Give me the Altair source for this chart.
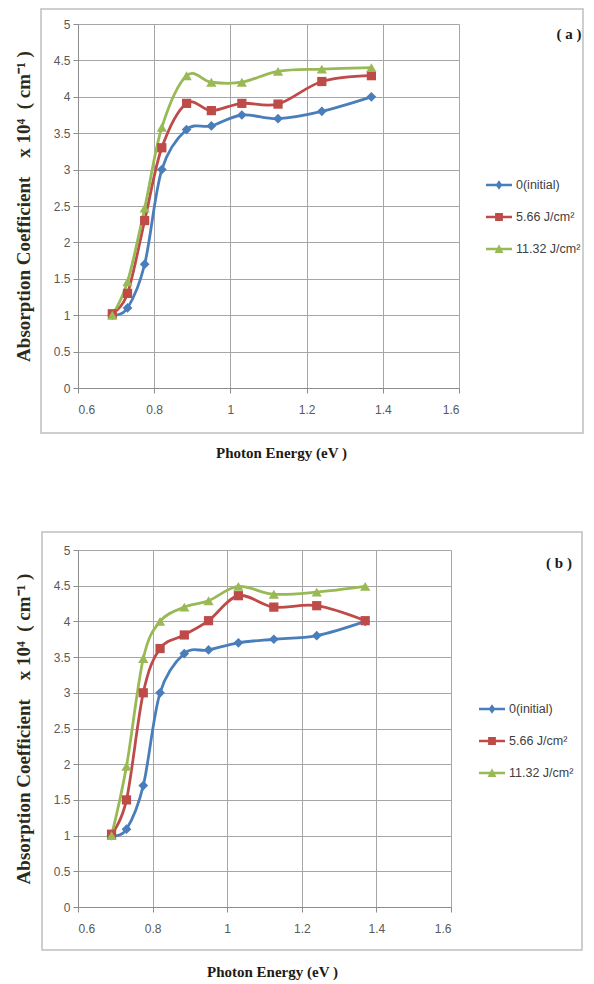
import altair as alt
import pandas as pd

# ---------------- data ----------------
energy = [0.69, 0.73, 0.775, 0.82, 0.885, 0.95, 1.03, 1.125, 1.24, 1.37]

a_initial = [1.0, 1.10, 1.70, 3.0, 3.55, 3.60, 3.75, 3.70, 3.80, 4.0]
a_566 = [1.02, 1.30, 2.30, 3.30, 3.91, 3.81, 3.91, 3.90, 4.21, 4.29]
a_1132 = [1.0, 1.46, 2.47, 3.58, 4.29, 4.20, 4.20, 4.35, 4.38, 4.40]

b_initial = [1.0, 1.09, 1.70, 3.0, 3.55, 3.60, 3.70, 3.75, 3.80, 4.0]
b_566 = [1.02, 1.50, 3.0, 3.62, 3.81, 4.01, 4.36, 4.20, 4.22, 4.01]
b_1132 = [1.0, 1.97, 3.48, 4.0, 4.20, 4.29, 4.49, 4.38, 4.41, 4.49]

series_names = ["0(initial)", "5.66 J/cm²", "11.32 J/cm²"]
x_ticks = [0.6, 0.8, 1.0, 1.2, 1.4, 1.6]
y_ticks = [0, 0.5, 1, 1.5, 2, 2.5, 3, 3.5, 4, 4.5, 5]

# ---------------- styles ----------------
colors = ["#4A7EBB", "#BE4B48", "#98B954"]
marker_shapes = ["diamond", "square", "triangle-up"]
marker_sizes = [95, 85, 105]
legend_paths = [
    "M-1,-0.09H1V0.09H-1Z M0,-0.36L0.26,0L0,0.36L-0.26,0Z",
    "M-1,-0.09H1V0.09H-1Z M-0.3,-0.3H0.3V0.3H-0.3Z",
    "M-1,-0.09H1V0.09H-1Z M-0.34,0.3L0,-0.36L0.34,0.3Z",
]
SERIF = "Liberation Serif"
SANS = "Liberation Sans"
NB = "\u00a0"
Y_TITLE = "Absorption Coefficient" + NB * 4 + "x 10⁴" + NB * 2 + "(" + NB + "cm⁻¹" + NB + ")"


def make_df(v1, v2, v3):
    rows = []
    for name, vals in zip(series_names, [v1, v2, v3]):
        for e, v in zip(energy, vals):
            rows.append({"energy": e, "alpha": v, "series": name})
    return pd.DataFrame(rows)


def panel(df, w, h, border, label, label_xy, legend_xy, title_x):
    x_enc = alt.X(
        "energy:Q",
        scale=alt.Scale(domain=[0.6, 1.6], nice=False, zero=False),
        axis=alt.Axis(values=x_ticks, format=".1~f", title="Photon Energy (eV )",
                      titleX=title_x, tickSize=5, labelPadding=11, titlePadding=30,
                      titleFontSize=15, titleColor="#1E1A14"),
    )
    y_enc = alt.Y(
        "alpha:Q",
        scale=alt.Scale(domain=[0, 5], nice=False),
        axis=alt.Axis(values=y_ticks, format=".1~f", title=Y_TITLE,
                      tickSize=5, labelPadding=3, titlePadding=20,
                      titleFontSize=19, titleColor="#2E2A1A"),
    )
    base = alt.Chart(df)
    one = alt.Chart(pd.DataFrame({"k": [0]}))

    frame = one.mark_rect(fill="transparent", stroke="#BFBFBF", strokeWidth=1.5).encode(
        x=alt.value(border[0]), x2=alt.value(border[1]),
        y=alt.value(border[2]), y2=alt.value(border[3]),
    )
    layers = [frame]
    for name, col in zip(series_names, colors):
        layers.append(
            base.transform_filter(alt.datum.series == name)
            .mark_line(interpolate="cardinal", strokeWidth=2.8, color=col)
            .encode(x=x_enc, y=y_enc)
        )
    for name, col, shp, sz in zip(series_names, colors, marker_shapes, marker_sizes):
        layers.append(
            base.transform_filter(alt.datum.series == name)
            .mark_point(shape=shp, filled=True, size=sz, opacity=1, color=col)
            .encode(x=x_enc, y=y_enc)
        )
    leg = alt.Legend(title=None, orient="none", legendX=legend_xy[0], legendY=legend_xy[1],
                     symbolSize=676, symbolStrokeWidth=0, symbolOpacity=1, labelFont=SANS,
                     labelFontSize=12.5, labelColor="#404040", labelOffset=4,
                     rowPadding=12, padding=0, direction="vertical")
    legend_layer = base.transform_filter("false").mark_point(filled=True, opacity=1).encode(
        x=x_enc, y=y_enc,
        color=alt.Color("series:N", scale=alt.Scale(domain=series_names, range=colors),
                        legend=leg),
        shape=alt.Shape("series:N", scale=alt.Scale(domain=series_names, range=legend_paths),
                        legend=leg),
    )
    layers.append(legend_layer)
    tag = one.mark_text(font=SERIF, fontWeight="bold", fontSize=15, color="#1E1A14").encode(
        x=alt.value(label_xy[0]), y=alt.value(label_xy[1]), text=alt.value(label)
    )
    layers.append(tag)
    return alt.layer(*layers).properties(width=w, height=h)


df_a = make_df(a_initial, a_566, a_1132)
df_b = make_df(b_initial, b_566, b_1132)

pa = panel(df_a, 381, 364, (-37, 505, -15, 409), "( a )", (491, 10), (408, 148), 203)
pb = panel(df_b, 373, 357, (-36, 504, -18, 400), "( b )", (481, 13), (401, 146), 194)

chart = (
    alt.vconcat(pa, pb, spacing=69)
    .resolve_legend(color="independent", shape="independent")
    .properties(padding={"left": 5, "top": -1, "right": 0, "bottom": 0})
    .configure_view(stroke="transparent")
    .configure_axis(
        labelFont=SANS, labelFontSize=12, labelColor="#595959",
        titleFont=SERIF, titleFontWeight="bold",
        gridColor="#A6A6A6", gridWidth=1,
        domainColor="#8C8C8C", tickColor="#8C8C8C",
    )
)

chart.save("out.html", embed_options={"renderer": "svg", "actions": False})
